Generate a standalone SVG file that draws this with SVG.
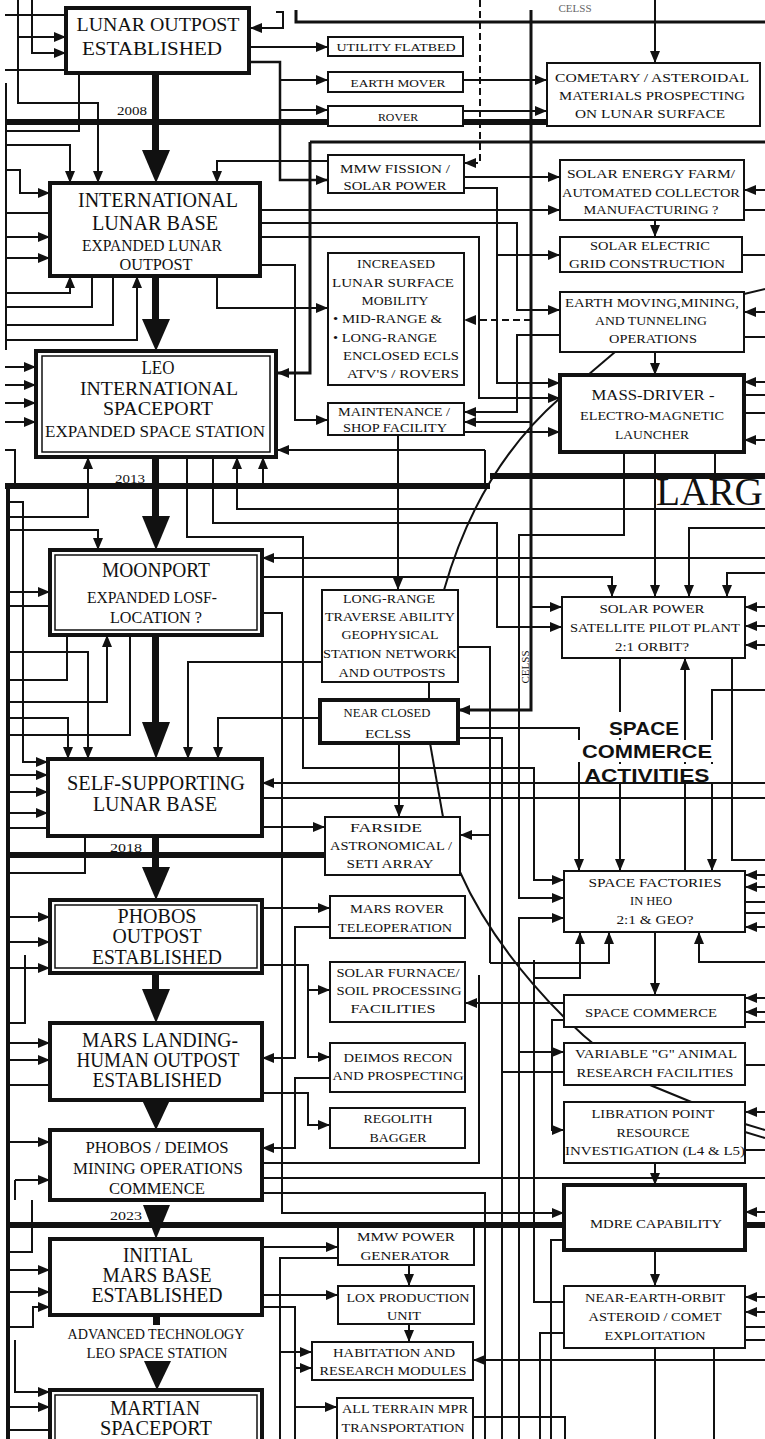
<svg xmlns="http://www.w3.org/2000/svg" width="765" height="1439" viewBox="0 0 765 1439">
<style>
  .bg { fill: #ffffff; }
  .c { fill: none; stroke: #111; stroke-width: 2; }
  .k { fill: none; stroke: #111; stroke-width: 3; }
  .yr { fill: none; stroke: #111; stroke-width: 6; }
  .d { stroke-dasharray: 7 4; }
  .ar { marker-end: url(#ah); }
  .box { fill: #fff; stroke: #111; stroke-width: 2; }
  .bx4 { fill: #fff; stroke: #111; stroke-width: 4; }
  .inner { fill: none; stroke: #111; stroke-width: 1.5; }
  .big { fill: #111; }
  text { font-family: "Liberation Serif", "Times New Roman", serif; fill: #111; text-anchor: middle; }
  .f20 { font-size: 20px; }
  .f18 { font-size: 18px; }
  .f17 { font-size: 17px; }
  .f16 { font-size: 16px; }
  .f14 { font-size: 14px; }
  .f13 { font-size: 13px; }
  .f12 { font-size: 12.5px; }
  .f11 { font-size: 11px; }
  .yl { font-size: 13px; }
  .hd { font-family: "Liberation Sans", Arial, sans-serif; font-weight: bold; font-size: 19px; }
</style>
<defs>
  <marker id="ah" viewBox="0 0 12 10" refX="12" refY="5" markerWidth="12" markerHeight="10" markerUnits="userSpaceOnUse" orient="auto">
    <path d="M0,0 L12,5 L0,10 z" fill="#111"/>
  </marker>
</defs>
<rect class="bg" x="0" y="0" width="765" height="1439"/>

<g id="connectors">
  <!-- year bars -->
  <path class="yr" d="M5,122 H547"/>
  <path class="yr" d="M5,486 H490"/>
  <path class="yr" d="M490,476 H765"/>
  <path class="yr" d="M8,855 H325"/>
  <path class="yr" d="M8,1225 H765"/>
  <path class="k" style="stroke-width:4" d="M8,486 V1439"/>

  <!-- heavy trunks -->
  <path class="k" d="M296,10 V22 H765"/>
  <path class="k ar" d="M531,10 V710 H458"/>
  <path class="k" d="M310,142 H765"/>
  <path class="k ar" d="M310,142 V373 H277"/>

  <!-- lunar outpost area -->
  <path class="c ar" d="M18,0 V103 H98 V183"/>
  <path class="c ar" d="M18,37 H66"/>
  <path class="c ar" d="M32,0 V53 H66"/>
  <path class="c" d="M5,15 H66"/>
  <path class="c" d="M5,70 H66"/>
  <path class="c" d="M79,73 V131 H5"/>
  <path class="c" d="M6,83 V350"/>
  <path class="c ar" d="M5,145 H70 V183"/>
  <path class="c ar" d="M5,170 H20 V193 H50"/>
  <path class="c" d="M5,213 H50"/>
  <path class="c ar" d="M5,237 H50"/>
  <path class="c ar" d="M249,47 H328"/>
  <path class="c ar" style="stroke-width:2.5" d="M249,62 H280 V180 H328"/>
  <path class="c ar" d="M280,80 H328"/>
  <path class="c ar" d="M280,110 H328"/>
  <path class="c ar" d="M276,12 H283 V28 H250"/>
  <path class="c ar" d="M328,161 H217 V183"/>
  <path class="c ar" d="M464,80 H547"/>
  <path class="c ar" d="M464,111 H547"/>
  <path class="c ar" d="M655,0 V63"/>
  <path class="c d ar" d="M480,0 V163 H464"/>

  <!-- international lunar base area -->
  <path class="c ar" d="M464,177 H560"/>
  <path class="c ar" d="M464,188 H497 V383 H560"/>
  <path class="c ar" d="M497,255 H560"/>
  <path class="c ar" d="M260,210 H560"/>
  <path class="c ar" d="M260,223 H517 V310 H560"/>
  <path class="c ar" d="M260,237 H479 V398 H560"/>
  <path class="c ar" d="M765,190 H744"/>
  <path class="c" d="M744,210 H765"/>
  <path class="c ar" d="M655,220 V237"/>
  <path class="c" d="M742,255 H765"/>
  <path class="c" d="M744,294 L765,289"/>
  <path class="c ar" d="M765,312 H744"/>
  <path class="c" d="M744,337 H765"/>
  <path class="c d ar" d="M531,320 H464"/>
  <path class="c ar" d="M560,335 H517 V412 H464"/>
  <path class="c ar" d="M531,422 H464"/>
  <path class="c ar" d="M464,432 H560"/>
  <path class="c ar" d="M655,352 V375"/>
  <path class="c" d="M615,352 L588,375"/>
  <path class="c" d="M444,590 Q478,470 560,398"/>
  <path class="c ar" d="M765,382 H744"/>
  <path class="c ar" d="M765,440 H744"/>
  <path class="c" d="M744,395 H765"/>
  <path class="c" d="M744,413 H765"/>
  <path class="c" d="M715,452 V476"/>
  <path class="c ar" d="M5,258 H50"/>
  <path class="c ar" d="M5,293 H70 V276"/>
  <path class="c" d="M5,307 H92 V276"/>
  <path class="c" d="M5,325 H113 V276"/>
  <path class="c ar" d="M5,340 H137 V276"/>
  <path class="c ar" d="M217,276 V308 H328"/>
  <path class="c ar" d="M260,265 H295 V420 H328"/>

  <!-- LEO spaceport area -->
  <path class="c ar" d="M5,367 H36"/>
  <path class="c ar" d="M5,385 H36"/>
  <path class="c ar" d="M5,403 H36"/>
  <path class="c ar" d="M5,422 H36"/>
  <path class="c" d="M5,450 H15 V486"/>
  <path class="c ar" d="M485,450 H277"/>
  <path class="c" d="M485,450 V486"/>
  <path class="c ar" d="M765,509 H237 V457"/>
  <path class="c ar" d="M263,486 V457"/>
  <path class="c ar" d="M8,517 H88 V457"/>
  <path class="c ar" d="M187,457 V537 H303 V768 H534 V880 H564"/>
  <path class="c ar" d="M213,457 V523 H497 V627 H562"/>
  <path class="c ar" d="M624,452 V535 H519 V898 H564"/>
  <path class="c ar" d="M655,452 V597"/>

  <!-- moonport area -->
  <path class="c ar" d="M8,502 H23 V762 H48"/>
  <path class="c ar" d="M8,530 H98 V550"/>
  <path class="c ar" d="M8,592 H50"/>
  <path class="c" d="M8,606 H50"/>
  <path class="c" d="M67,635 V680 H8"/>
  <path class="c ar" d="M8,652 H88 V759"/>
  <path class="c ar" d="M8,702 H107 V635"/>
  <path class="c" d="M130,635 V735 H8"/>
  <path class="c ar" d="M8,718 H68 V759"/>
  <path class="c ar" d="M765,558 H262"/>
  <path class="c ar" d="M262,577 H612 V597"/>
  <path class="c ar" d="M262,613 H282 V1213 H564"/>
  <path class="c ar" d="M322,662 H188 V759"/>
  <path class="c ar" d="M398,435 V590"/>
  <path class="c ar" d="M765,528 H689 V597"/>
  <path class="c ar" d="M765,573 H727 V597"/>
  <path class="c ar" d="M531,607 H562"/>
  <path class="c ar" d="M458,647 H490 V835 H460"/>
  <path class="c" d="M490,835 V963"/>
  <path class="c ar" d="M765,607 H745"/>
  <path class="c ar" d="M765,626 H745"/>
  <path class="c ar" d="M765,645 H745"/>
  <path class="c ar" d="M620,658 V871"/>
  <path class="c ar" d="M685,871 V658"/>
  <path class="c" d="M732,658 V860 H765"/>
  <path class="c ar" d="M765,690 H712 V871"/>
  <path class="c" d="M429,682 V700"/>

  <!-- self-supporting base area -->
  <path class="c ar" d="M458,728 H579 V871"/>
  <path class="c" d="M458,738 H502 V1439"/>
  <path class="c ar" d="M399,743 V817"/>
  <path class="c" d="M430,743 L443,817"/>
  <path class="c" d="M460,872 C490,940 560,1030 650,1085 L745,1124 L765,1130"/>
  <path class="c" d="M745,1132 L765,1138"/>
  <path class="c ar" d="M320,718 H218 V759"/>
  <path class="c ar" d="M765,783 H262"/>
  <path class="c" d="M262,798 H765"/>
  <path class="c ar" d="M262,827 H325"/>
  <path class="c" d="M85,836 V873 H8"/>
  <path class="c ar" d="M8,775 H48"/>
  <path class="c ar" d="M8,792 H48"/>
  <path class="c ar" d="M8,813 H48"/>
  <path class="c" d="M8,828 H48"/>

  <!-- phobos outpost area -->
  <path class="c ar" d="M8,917 H50"/>
  <path class="c ar" d="M8,942 H50"/>
  <path class="c ar" d="M8,968 H50"/>
  <path class="c ar" d="M262,908 H330"/>
  <path class="c ar" d="M330,927 H295 V1058 H262"/>
  <path class="c ar" d="M262,965 H308 V1057 H330"/>
  <path class="c ar" d="M308,990 H330"/>
  <path class="c ar" d="M262,1093 H308 V1125 H330"/>
  <path class="c ar" d="M330,1078 H295 V1148 H262"/>
  <path class="c" d="M25,955 V1023 H8"/>
  <path class="c ar" d="M8,1043 H50"/>
  <path class="c ar" d="M8,1060 H50"/>
  <path class="c" d="M8,1085 H50"/>
  <path class="c ar" d="M8,1142 H50"/>
  <path class="c ar" d="M15,1180 H50"/>
  <path class="c" d="M15,1180 V1200"/>
  <path class="c" d="M262,1163 H479 V975"/>
  <path class="c" d="M262,1178 H765"/>
  <path class="c" d="M262,1193 H485 V1439"/>

  <!-- space factories / commerce area -->
  <path class="c ar" d="M564,1003 H465"/>
  <path class="c ar" d="M655,932 V995"/>
  <path class="c ar" d="M534,978 H580 V932"/>
  <path class="c ar" d="M490,963 H609 V932"/>
  <path class="c ar" d="M765,962 H699 V932"/>
  <path class="c ar" d="M765,875 H745"/>
  <path class="c ar" d="M765,887 H745"/>
  <path class="c ar" d="M765,927 H745"/>
  <path class="c" d="M745,902 H765"/>
  <path class="c" d="M745,913 H765"/>
  <path class="c ar" d="M564,1020 H552 V1130 H564"/>
  <path class="c ar" d="M519,1439 V918 H564"/>
  <path class="c ar" d="M519,1052 H564"/>
  <path class="c" d="M534,960 V1302 H564"/>
  <path class="c" d="M564,1072 H502"/>
  <path class="c ar" d="M765,998 H745"/>
  <path class="c ar" d="M765,1012 H745"/>
  <path class="c" d="M745,1022 H765"/>
  <path class="c" d="M745,1065 H765"/>
  <path class="c ar" d="M765,1112 H745"/>
  <path class="c" d="M745,1150 H765"/>
  <path class="c ar" d="M655,1163 V1185"/>

  <!-- mars base area -->
  <path class="c ar" d="M765,1212 H745"/>
  <path class="c" d="M564,1240 H551 V1439"/>
  <path class="c ar" d="M655,1250 V1286"/>
  <path class="c" d="M564,1333 H540 V1439"/>
  <path class="c ar" d="M765,1297 H745"/>
  <path class="c ar" d="M765,1312 H745"/>
  <path class="c" d="M745,1327 H765"/>
  <path class="c" d="M745,1340 H765"/>
  <path class="c ar" d="M765,1360 H473"/>
  <path class="c" d="M655,1348 V1439"/>
  <path class="c" d="M714,1348 V1439"/>
  <path class="c" d="M473,1417 H565 V1439"/>
  <path class="c ar" d="M409,1265 V1286"/>
  <path class="c ar" d="M409,1324 V1342"/>
  <path class="c ar" d="M262,1247 H338"/>
  <path class="c" d="M338,1258 H280 V1439"/>
  <path class="c ar" d="M262,1295 H338"/>
  <path class="c" d="M262,1307 H295 V1439"/>
  <path class="c ar" d="M280,1352 H312"/>
  <path class="c ar" d="M295,1368 H312"/>
  <path class="c ar" d="M295,1407 H337"/>
  <path class="c" d="M32,1200 V1252 H10"/>
  <path class="c ar" d="M10,1270 H50"/>
  <path class="c ar" d="M10,1292 H50"/>
  <path class="c ar" d="M10,1327 H33 V1307 H50"/>
  <path class="c ar" d="M15,1340 V1392 H50"/>
  <path class="c ar" d="M10,1407 H50"/>
  <path class="c" d="M10,1430 H50"/>
</g>

<!-- main sequence arrows -->
<g id="main-flow">
  <rect class="big" x="152" y="73" width="7" height="80"/>
  <polygon class="big" points="142,150 170,150 156,183"/>
  <rect class="big" x="152" y="276" width="7" height="46"/>
  <polygon class="big" points="142,319 170,319 156,351"/>
  <rect class="big" x="152" y="457" width="7" height="62"/>
  <polygon class="big" points="142,516 170,516 156,550"/>
  <rect class="big" x="152" y="635" width="7" height="90"/>
  <polygon class="big" points="142,722 170,722 156,759"/>
  <rect class="big" x="152" y="836" width="7" height="34"/>
  <polygon class="big" points="142,867 170,867 156,900"/>
  <rect class="big" x="152" y="973" width="7" height="19"/>
  <polygon class="big" points="142,989 170,989 156,1023"/>
  <polygon class="big" points="142,1100 170,1100 156,1130"/>
  <polygon class="big" points="143,1205 170,1205 156,1239"/>
  <rect class="big" x="153" y="1315" width="7" height="10"/>
  <polygon class="big" points="144,1361 171,1361 157,1390"/>
</g>

<g id="labels">
  <rect class="bg" x="580" y="712" width="103" height="26"/>
  <rect class="bg" x="578" y="740" width="138" height="22"/>
  <rect class="bg" x="582" y="764" width="132" height="18"/>
  <text class="hd" x="644" y="735" textLength="70" lengthAdjust="spacingAndGlyphs">SPACE</text>
  <text class="hd" x="647" y="758" textLength="130" lengthAdjust="spacingAndGlyphs">COMMERCE</text>
  <text class="hd" x="647" y="782" textLength="125" lengthAdjust="spacingAndGlyphs">ACTIVITIES</text>
  <text style="font-size:40px;text-anchor:start" x="656" y="505" textLength="107" lengthAdjust="spacingAndGlyphs">LARG</text>
  <text class="f11" x="575" y="12" style="fill:#666">CELSS</text>
  <text class="f11" transform="translate(529,667) rotate(-90)">CELSS</text>
  <text class="yl" x="132" y="115" textLength="30" lengthAdjust="spacingAndGlyphs">2008</text>
  <text class="yl" x="130" y="483" textLength="30" lengthAdjust="spacingAndGlyphs">2013</text>
  <text class="yl" x="126" y="852" textLength="32" lengthAdjust="spacingAndGlyphs">2018</text>
  <text class="yl" x="126" y="1220" textLength="32" lengthAdjust="spacingAndGlyphs">2023</text>
</g>

<!-- milestone column -->
<g id="lunar-outpost">
  <rect class="bx4" x="66" y="8" width="183" height="65"/>
  <text class="f18" x="158" y="31" textLength="163" lengthAdjust="spacingAndGlyphs">LUNAR OUTPOST</text>
  <text class="f18" x="152" y="55" textLength="140" lengthAdjust="spacingAndGlyphs">ESTABLISHED</text>
</g>
<g id="international-lunar-base">
  <rect class="bx4" x="50" y="183" width="210" height="93"/>
  <text class="f20" x="158" y="207" textLength="160" lengthAdjust="spacingAndGlyphs">INTERNATIONAL</text>
  <text class="f20" x="155" y="230" textLength="126" lengthAdjust="spacingAndGlyphs">LUNAR  BASE</text>
  <text class="f16" x="152" y="251" textLength="140" lengthAdjust="spacingAndGlyphs">EXPANDED LUNAR</text>
  <text class="f17" x="156" y="270" textLength="73" lengthAdjust="spacingAndGlyphs">OUTPOST</text>
</g>
<g id="leo-spaceport">
  <rect class="bx4" x="36" y="351" width="240" height="106"/>
  <rect class="inner" x="42" y="356" width="228" height="96"/>
  <text class="f18" x="158" y="374" textLength="33" lengthAdjust="spacingAndGlyphs">LEO</text>
  <text class="f18" x="159" y="395" textLength="158" lengthAdjust="spacingAndGlyphs">INTERNATIONAL</text>
  <text class="f18" x="158" y="415" textLength="110" lengthAdjust="spacingAndGlyphs">SPACEPORT</text>
  <text class="f16" x="155" y="437" textLength="220" lengthAdjust="spacingAndGlyphs">EXPANDED SPACE STATION</text>
</g>
<g id="moonport">
  <rect class="bx4" x="50" y="550" width="212" height="85"/>
  <rect class="inner" x="55" y="555" width="202" height="75"/>
  <text class="f20" x="156" y="577" textLength="108" lengthAdjust="spacingAndGlyphs">MOONPORT</text>
  <text class="f17" x="152" y="603" textLength="130" lengthAdjust="spacingAndGlyphs">EXPANDED LOSF-</text>
  <text class="f17" x="156" y="623" textLength="92" lengthAdjust="spacingAndGlyphs">LOCATION ?</text>
</g>
<g id="self-supporting-base">
  <rect class="bx4" x="48" y="759" width="214" height="77"/>
  <text class="f20" x="156" y="790" textLength="178" lengthAdjust="spacingAndGlyphs">SELF-SUPPORTING</text>
  <text class="f20" x="155" y="811" textLength="124" lengthAdjust="spacingAndGlyphs">LUNAR BASE</text>
</g>
<g id="phobos-outpost">
  <rect class="bx4" x="50" y="900" width="212" height="73"/>
  <rect class="inner" x="55" y="905" width="202" height="63"/>
  <text class="f20" x="157" y="923" textLength="79" lengthAdjust="spacingAndGlyphs">PHOBOS</text>
  <text class="f20" x="157" y="943" textLength="89" lengthAdjust="spacingAndGlyphs">OUTPOST</text>
  <text class="f20" x="157" y="964" textLength="130" lengthAdjust="spacingAndGlyphs">ESTABLISHED</text>
</g>
<g id="mars-landing">
  <rect class="bx4" x="50" y="1023" width="212" height="77"/>
  <text class="f20" x="160" y="1047" textLength="156" lengthAdjust="spacingAndGlyphs">MARS LANDING-</text>
  <text class="f20" x="158" y="1067" textLength="163" lengthAdjust="spacingAndGlyphs">HUMAN OUTPOST</text>
  <text class="f20" x="157" y="1087" textLength="129" lengthAdjust="spacingAndGlyphs">ESTABLISHED</text>
</g>
<g id="phobos-deimos-mining">
  <rect class="bx4" x="50" y="1130" width="212" height="70"/>
  <text class="f17" x="157" y="1153" textLength="143" lengthAdjust="spacingAndGlyphs">PHOBOS / DEIMOS</text>
  <text class="f17" x="158" y="1174" textLength="170" lengthAdjust="spacingAndGlyphs">MINING OPERATIONS</text>
  <text class="f17" x="157" y="1194" textLength="96" lengthAdjust="spacingAndGlyphs">COMMENCE</text>
</g>
<g id="initial-mars-base">
  <rect class="bx4" x="50" y="1239" width="212" height="76"/>
  <text class="f20" x="158" y="1262" textLength="70" lengthAdjust="spacingAndGlyphs">INITIAL</text>
  <text class="f20" x="157" y="1282" textLength="109" lengthAdjust="spacingAndGlyphs">MARS BASE</text>
  <text class="f20" x="157" y="1302" textLength="131" lengthAdjust="spacingAndGlyphs">ESTABLISHED</text>
  <text class="f14" x="156" y="1339" textLength="177" lengthAdjust="spacingAndGlyphs">ADVANCED TECHNOLOGY</text>
  <text class="f14" x="157" y="1358" textLength="141" lengthAdjust="spacingAndGlyphs">LEO SPACE STATION</text>
</g>
<g id="martian-spaceport">
  <rect class="bx4" x="50" y="1390" width="212" height="60"/>
  <rect class="inner" x="55" y="1395" width="202" height="50"/>
  <text class="f20" x="155" y="1415" textLength="90" lengthAdjust="spacingAndGlyphs">MARTIAN</text>
  <text class="f20" x="156" y="1435" textLength="112" lengthAdjust="spacingAndGlyphs">SPACEPORT</text>
</g>

<!-- support column -->
<g id="utility-flatbed">
  <rect class="box" x="328" y="37" width="135" height="19"/>
  <text class="f11" x="396" y="51" textLength="119" lengthAdjust="spacingAndGlyphs">UTILITY FLATBED</text>
</g>
<g id="earth-mover">
  <rect class="box" x="328" y="72" width="135" height="20"/>
  <text class="f11" x="398" y="87" textLength="95" lengthAdjust="spacingAndGlyphs">EARTH MOVER</text>
</g>
<g id="rover">
  <rect class="box" x="328" y="106" width="135" height="20"/>
  <text class="f11" x="398" y="121" textLength="40" lengthAdjust="spacingAndGlyphs">ROVER</text>
</g>
<g id="mmw-fission">
  <rect class="box" x="328" y="155" width="136" height="38"/>
  <text class="f13" x="395" y="173" textLength="110" lengthAdjust="spacingAndGlyphs">MMW FISSION /</text>
  <text class="f13" x="395" y="190" textLength="103" lengthAdjust="spacingAndGlyphs">SOLAR POWER</text>
</g>
<g id="increased-mobility">
  <rect class="box" x="328" y="253" width="136" height="132"/>
  <text class="f12" x="396" y="268" textLength="78" lengthAdjust="spacingAndGlyphs">INCREASED</text>
  <text class="f12" x="393" y="287" textLength="122" lengthAdjust="spacingAndGlyphs">LUNAR SURFACE</text>
  <text class="f12" x="395" y="305" textLength="67" lengthAdjust="spacingAndGlyphs">MOBILITY</text>
  <text class="f12" x="333" y="323" style="text-anchor:start" textLength="109" lengthAdjust="spacingAndGlyphs">• MID-RANGE &amp;</text>
  <text class="f12" x="333" y="342" style="text-anchor:start" textLength="104" lengthAdjust="spacingAndGlyphs">• LONG-RANGE</text>
  <text class="f12" x="401" y="360" textLength="116" lengthAdjust="spacingAndGlyphs">ENCLOSED ECLS</text>
  <text class="f12" x="403" y="378" textLength="112" lengthAdjust="spacingAndGlyphs">ATV'S / ROVERS</text>
</g>
<g id="maintenance-shop">
  <rect class="box" x="328" y="403" width="136" height="32"/>
  <text class="f12" x="394" y="416" textLength="112" lengthAdjust="spacingAndGlyphs">MAINTENANCE /</text>
  <text class="f12" x="395" y="432" textLength="104" lengthAdjust="spacingAndGlyphs">SHOP FACILITY</text>
</g>
<g id="long-range-traverse">
  <rect class="box" x="322" y="590" width="136" height="92"/>
  <text class="f12" x="389" y="603" textLength="92" lengthAdjust="spacingAndGlyphs">LONG-RANGE</text>
  <text class="f12" x="390" y="621" textLength="130" lengthAdjust="spacingAndGlyphs">TRAVERSE ABILITY</text>
  <text class="f12" x="390" y="639" textLength="97" lengthAdjust="spacingAndGlyphs">GEOPHYSICAL</text>
  <text class="f12" x="390" y="658" textLength="134" lengthAdjust="spacingAndGlyphs">STATION NETWORK</text>
  <text class="f12" x="392" y="677" textLength="107" lengthAdjust="spacingAndGlyphs">AND OUTPOSTS</text>
</g>
<g id="near-closed-eclss">
  <rect class="bx4" x="320" y="700" width="138" height="43"/>
  <text class="f13" x="387" y="717" textLength="87" lengthAdjust="spacingAndGlyphs">NEAR CLOSED</text>
  <text class="f13" x="388" y="738" textLength="46" lengthAdjust="spacingAndGlyphs">ECLSS</text>
</g>
<g id="farside-array">
  <rect class="box" x="325" y="817" width="135" height="58"/>
  <text class="f12" x="386" y="832" textLength="72" lengthAdjust="spacingAndGlyphs">FARSIDE</text>
  <text class="f12" x="391" y="850" textLength="122" lengthAdjust="spacingAndGlyphs">ASTRONOMICAL /</text>
  <text class="f12" x="390" y="868" textLength="87" lengthAdjust="spacingAndGlyphs">SETI ARRAY</text>
</g>
<g id="mars-rover-teleoperation">
  <rect class="box" x="330" y="896" width="135" height="42"/>
  <text class="f12" x="397" y="913" textLength="94" lengthAdjust="spacingAndGlyphs">MARS ROVER</text>
  <text class="f12" x="395" y="932" textLength="114" lengthAdjust="spacingAndGlyphs">TELEOPERATION</text>
</g>
<g id="solar-furnace">
  <rect class="box" x="330" y="962" width="135" height="60"/>
  <text class="f12" x="398" y="977" textLength="123" lengthAdjust="spacingAndGlyphs">SOLAR FURNACE/</text>
  <text class="f12" x="399" y="995" textLength="125" lengthAdjust="spacingAndGlyphs">SOIL PROCESSING</text>
  <text class="f12" x="393" y="1013" textLength="85" lengthAdjust="spacingAndGlyphs">FACILITIES</text>
</g>
<g id="deimos-recon">
  <rect class="box" x="330" y="1043" width="135" height="49"/>
  <text class="f12" x="398" y="1062" textLength="109" lengthAdjust="spacingAndGlyphs">DEIMOS RECON</text>
  <text class="f12" x="398" y="1080" textLength="131" lengthAdjust="spacingAndGlyphs">AND PROSPECTING</text>
</g>
<g id="regolith-bagger">
  <rect class="box" x="330" y="1108" width="135" height="40"/>
  <text class="f12" x="398" y="1123" textLength="69" lengthAdjust="spacingAndGlyphs">REGOLITH</text>
  <text class="f12" x="398" y="1142" textLength="57" lengthAdjust="spacingAndGlyphs">BAGGER</text>
</g>
<g id="mmw-power-generator">
  <rect class="box" x="338" y="1227" width="136" height="38"/>
  <text class="f12" x="406" y="1241" textLength="98" lengthAdjust="spacingAndGlyphs">MMW  POWER</text>
  <text class="f12" x="405" y="1260" textLength="89" lengthAdjust="spacingAndGlyphs">GENERATOR</text>
</g>
<g id="lox-production">
  <rect class="box" x="338" y="1286" width="136" height="38"/>
  <text class="f12" x="408" y="1302" textLength="123" lengthAdjust="spacingAndGlyphs">LOX PRODUCTION</text>
  <text class="f12" x="404" y="1320" textLength="34" lengthAdjust="spacingAndGlyphs">UNIT</text>
</g>
<g id="habitation-modules">
  <rect class="box" x="312" y="1342" width="161" height="38"/>
  <text class="f12" x="394" y="1357" textLength="122" lengthAdjust="spacingAndGlyphs">HABITATION AND</text>
  <text class="f12" x="393" y="1375" textLength="147" lengthAdjust="spacingAndGlyphs">RESEARCH MODULES</text>
</g>
<g id="all-terrain-transport">
  <rect class="box" x="337" y="1398" width="136" height="50"/>
  <text class="f12" x="405" y="1413" textLength="126" lengthAdjust="spacingAndGlyphs">ALL TERRAIN MPR</text>
  <text class="f12" x="403" y="1432" textLength="123" lengthAdjust="spacingAndGlyphs">TRANSPORTATION</text>
</g>

<!-- operations column -->
<g id="cometary-prospecting">
  <rect class="box" x="547" y="63" width="213" height="63"/>
  <text class="f12" x="652" y="82" textLength="194" lengthAdjust="spacingAndGlyphs">COMETARY / ASTEROIDAL</text>
  <text class="f12" x="652" y="100" textLength="186" lengthAdjust="spacingAndGlyphs">MATERIALS PROSPECTING</text>
  <text class="f12" x="650" y="118" textLength="150" lengthAdjust="spacingAndGlyphs">ON LUNAR  SURFACE</text>
</g>
<g id="solar-energy-farm">
  <rect class="box" x="560" y="160" width="184" height="60"/>
  <text class="f12" x="651" y="178" textLength="168" lengthAdjust="spacingAndGlyphs">SOLAR ENERGY FARM/</text>
  <text class="f12" x="651" y="197" textLength="178" lengthAdjust="spacingAndGlyphs">AUTOMATED COLLECTOR</text>
  <text class="f12" x="651" y="214" textLength="135" lengthAdjust="spacingAndGlyphs">MANUFACTURING ?</text>
</g>
<g id="solar-electric-grid">
  <rect class="box" x="560" y="237" width="182" height="35"/>
  <text class="f12" x="650" y="250" textLength="120" lengthAdjust="spacingAndGlyphs">SOLAR ELECTRIC</text>
  <text class="f12" x="647" y="268" textLength="156" lengthAdjust="spacingAndGlyphs">GRID CONSTRUCTION</text>
</g>
<g id="earth-moving-mining">
  <rect class="box" x="560" y="292" width="184" height="60"/>
  <text class="f12" x="652" y="307" textLength="174" lengthAdjust="spacingAndGlyphs">EARTH MOVING,MINING,</text>
  <text class="f12" x="651" y="325" textLength="112" lengthAdjust="spacingAndGlyphs">AND TUNNELING</text>
  <text class="f12" x="653" y="343" textLength="88" lengthAdjust="spacingAndGlyphs">OPERATIONS</text>
</g>
<g id="mass-driver">
  <rect class="bx4" x="560" y="375" width="184" height="77"/>
  <text class="f14" x="653" y="400" textLength="123" lengthAdjust="spacingAndGlyphs">MASS-DRIVER -</text>
  <text class="f13" x="652" y="420" textLength="144" lengthAdjust="spacingAndGlyphs">ELECTRO-MAGNETIC</text>
  <text class="f13" x="652" y="439" textLength="74" lengthAdjust="spacingAndGlyphs">LAUNCHER</text>
</g>
<g id="solar-power-satellite">
  <rect class="box" x="562" y="597" width="183" height="61"/>
  <text class="f12" x="652" y="613" textLength="105" lengthAdjust="spacingAndGlyphs">SOLAR  POWER</text>
  <text class="f12" x="655" y="632" textLength="170" lengthAdjust="spacingAndGlyphs">SATELLITE PILOT PLANT</text>
  <text class="f12" x="652" y="651" textLength="74" lengthAdjust="spacingAndGlyphs">2:1 ORBIT?</text>
</g>
<g id="space-factories">
  <rect class="box" x="564" y="871" width="181" height="61"/>
  <text class="f12" x="655" y="887" textLength="133" lengthAdjust="spacingAndGlyphs">SPACE  FACTORIES</text>
  <text class="f12" x="651" y="905" textLength="42" lengthAdjust="spacingAndGlyphs">IN HEO</text>
  <text class="f12" x="655" y="924" textLength="77" lengthAdjust="spacingAndGlyphs">2:1 &amp; GEO?</text>
</g>
<g id="space-commerce">
  <rect class="box" x="564" y="995" width="181" height="32"/>
  <text class="f12" x="651" y="1017" textLength="132" lengthAdjust="spacingAndGlyphs">SPACE COMMERCE</text>
</g>
<g id="variable-g-research">
  <rect class="box" x="564" y="1043" width="181" height="42"/>
  <text class="f12" x="656" y="1058" textLength="162" lengthAdjust="spacingAndGlyphs">VARIABLE "G" ANIMAL</text>
  <text class="f12" x="655" y="1077" textLength="157" lengthAdjust="spacingAndGlyphs">RESEARCH FACILITIES</text>
</g>
<g id="libration-point">
  <rect class="box" x="564" y="1102" width="181" height="61"/>
  <text class="f12" x="653" y="1118" textLength="123" lengthAdjust="spacingAndGlyphs">LIBRATION POINT</text>
  <text class="f12" x="653" y="1137" textLength="73" lengthAdjust="spacingAndGlyphs">RESOURCE</text>
  <text class="f12" x="655" y="1155" textLength="180" lengthAdjust="spacingAndGlyphs">INVESTIGATION (L4 &amp; L5)</text>
</g>
<g id="mdre-capability">
  <rect class="bx4" x="564" y="1185" width="181" height="65"/>
  <text class="f12" x="656" y="1228" textLength="132" lengthAdjust="spacingAndGlyphs">MDRE CAPABILITY</text>
</g>
<g id="neo-exploitation">
  <rect class="box" x="564" y="1286" width="181" height="62"/>
  <text class="f12" x="655" y="1302" textLength="140" lengthAdjust="spacingAndGlyphs">NEAR-EARTH-ORBIT</text>
  <text class="f12" x="655" y="1321" textLength="133" lengthAdjust="spacingAndGlyphs">ASTEROID / COMET</text>
  <text class="f12" x="655" y="1340" textLength="101" lengthAdjust="spacingAndGlyphs">EXPLOITATION</text>
</g>
</svg>
